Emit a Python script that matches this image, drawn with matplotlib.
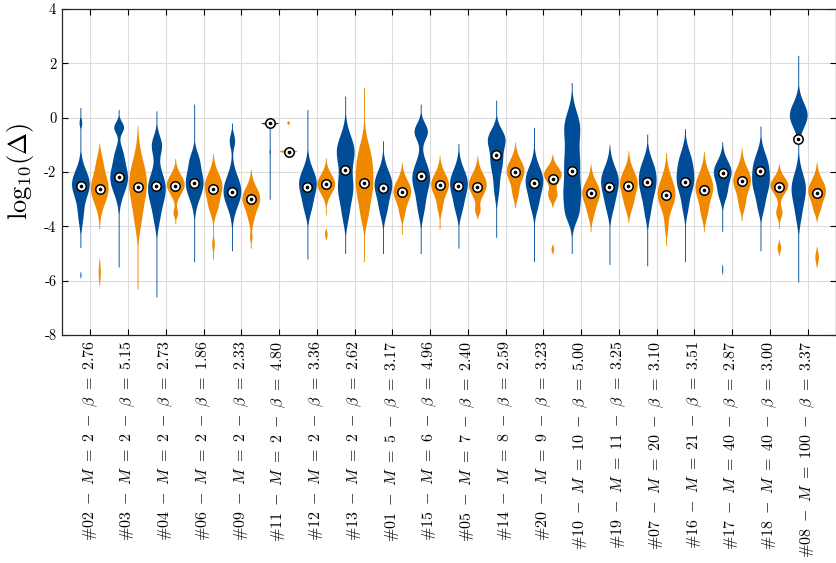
import numpy as np
import matplotlib
matplotlib.use('Agg')
import matplotlib.pyplot as plt

plt.rcParams['font.family'] = 'serif'
plt.rcParams['font.serif'] = ['cmr10']
plt.rcParams['mathtext.fontset'] = 'cm'
plt.rcParams['axes.unicode_minus'] = False

# categories (id, M, beta)
ids = ['02', '03', '04', '06', '09', '11', '12', '13', '01', '15',
       '05', '14', '20', '10', '19', '07', '16', '17', '18', '08']
Ms = ['2', '2', '2', '2', '2', '2', '2', '2', '5', '6',
      '7', '8', '9', '10', '11', '20', '21', '40', '40', '100']
betas = ['2.76', '5.15', '2.73', '1.86', '2.33', '4.80', '3.36', '2.62', '3.17', '4.96',
         '2.40', '2.59', '3.23', '5.00', '3.25', '3.10', '3.51', '2.87', '3.00', '3.37']

# medians
blue_med = [-2.5, -2.18, -2.5, -2.4, -2.75, -0.2, -2.55, -1.93, -2.6, -2.16,
            -2.5, -1.38, -2.4, -1.97, -2.56, -2.38, -2.36, -2.05, -1.95, -0.8]
orange_med = [-2.63, -2.55, -2.5, -2.63, -3.0, -1.25, -2.45, -2.4, -2.75, -2.47,
              -2.56, -2.0, -2.25, -2.78, -2.5, -2.86, -2.68, -2.34, -2.56, -2.77]

# density lobes (centre, spread, height) estimated from the violin shapes
blue_lobes = [
    [(-2.45, 0.5, 1.0), (-0.2, 0.15, 0.15), (-3.6, 0.4, 0.25), (-5.8, 0.1, 0.06)],
    [(-0.35, 0.2, 0.55), (-2.2, 0.55, 1.0), (-1.3, 0.3, 0.25)],
    [(-1.0, 0.35, 0.55), (-2.6, 0.6, 1.0), (-3.7, 0.4, 0.2)],
    [(-2.4, 0.55, 1.0), (-1.5, 0.3, 0.3)],
    [(-0.85, 0.25, 0.3), (-2.7, 0.55, 1.0)],
    [(-0.2, 0.035, 1.0), (-1.25, 0.08, 0.08)],
    [(-2.4, 0.5, 1.0), (-3.3, 0.35, 0.3)],
    [(-1.2, 0.55, 1.0), (-2.6, 0.55, 0.85), (-3.6, 0.4, 0.25)],
    [(-2.45, 0.5, 1.0), (-3.4, 0.35, 0.3)],
    [(-0.5, 0.3, 0.75), (-2.2, 0.55, 1.0), (-3.3, 0.4, 0.3)],
    [(-2.4, 0.5, 1.0), (-3.3, 0.35, 0.3)],
    [(-0.75, 0.35, 1.0), (-1.6, 0.45, 0.75), (-2.6, 0.4, 0.3)],
    [(-2.3, 0.5, 1.0), (-3.2, 0.35, 0.3)],
    [(-0.3, 0.55, 0.9), (-1.6, 0.6, 0.85), (-2.9, 0.6, 1.0), (-3.6, 0.3, 0.3)],
    [(-2.3, 0.5, 1.0), (-3.2, 0.4, 0.35)],
    [(-1.9, 0.45, 0.85), (-2.6, 0.5, 1.0), (-3.5, 0.35, 0.3)],
    [(-1.6, 0.45, 0.75), (-2.4, 0.45, 1.0), (-3.3, 0.35, 0.3)],
    [(-2.0, 0.4, 1.0), (-2.8, 0.3, 0.4), (-5.6, 0.15, 0.06)],
    [(-1.7, 0.45, 0.9), (-2.5, 0.45, 1.0), (-3.3, 0.3, 0.3)],
    [(0.1, 0.45, 1.0), (-2.6, 0.55, 0.8), (-3.6, 0.4, 0.2)],
]
orange_lobes = [
    [(-2.6, 0.55, 1.0), (-1.6, 0.3, 0.2), (-5.7, 0.3, 0.12)],
    [(-2.4, 0.8, 1.0), (-3.8, 0.5, 0.2)],
    [(-2.45, 0.35, 1.0), (-3.5, 0.15, 0.25)],
    [(-2.5, 0.45, 1.0), (-3.3, 0.3, 0.35), (-4.65, 0.2, 0.15)],
    [(-2.95, 0.4, 1.0), (-3.7, 0.3, 0.2), (-4.4, 0.15, 0.12)],
    [(-1.25, 0.04, 1.0), (-0.2, 0.04, 0.15)],
    [(-2.45, 0.35, 1.0), (-4.3, 0.12, 0.15)],
    [(-1.5, 0.6, 0.85), (-2.6, 0.6, 1.0), (-3.6, 0.4, 0.3)],
    [(-2.7, 0.4, 1.0), (-3.5, 0.25, 0.2)],
    [(-2.45, 0.4, 1.0), (-3.3, 0.25, 0.2)],
    [(-2.45, 0.4, 1.0), (-3.4, 0.15, 0.25)],
    [(-1.95, 0.4, 1.0), (-2.8, 0.25, 0.25)],
    [(-2.1, 0.28, 1.0), (-2.85, 0.2, 0.5), (-4.85, 0.1, 0.15)],
    [(-2.75, 0.4, 1.0), (-3.5, 0.3, 0.25)],
    [(-2.4, 0.45, 1.0), (-3.2, 0.3, 0.3)],
    [(-2.5, 0.5, 0.9), (-3.0, 0.45, 1.0), (-4.0, 0.3, 0.25)],
    [(-2.55, 0.5, 1.0), (-3.5, 0.3, 0.25)],
    [(-2.3, 0.45, 1.0), (-3.2, 0.25, 0.25)],
    [(-2.5, 0.3, 1.0), (-3.5, 0.2, 0.35), (-4.8, 0.15, 0.2)],
    [(-2.7, 0.4, 1.0), (-3.4, 0.2, 0.2), (-5.15, 0.2, 0.2)],
]

# thin whisker-like tails (low, high)
blue_tails = [(-4.8, 0.35), (-5.5, 0.3), (-6.6, 0.25), (-5.3, 0.5), (-4.9, -0.2),
              (-3.0, -0.1), (-5.2, 0.3), (-5.0, 0.8), (-5.0, -0.85), (-5.0, 0.5),
              (-4.8, -0.95), (-4.4, 0.65), (-5.3, -0.35), (-5.0, 1.3), (-5.4, -1.1),
              (-5.45, -0.6), (-5.3, -0.4), (-4.2, -0.9), (-4.9, -0.3), (-6.05, 2.3)]
orange_tails = [(-4.1, -1.3), (-6.3, -0.7), (-3.9, -1.5), (-5.2, -1.5), (-4.8, -2.1),
                (-1.3, -1.2), (-3.6, -1.5), (-5.3, 1.1), (-4.3, -1.9), (-4.1, -1.4),
                (-3.7, -1.8), (-3.2, -1.2), (-3.2, -1.5), (-4.2, -1.9), (-3.75, -1.3),
                (-4.7, -1.3), (-4.2, -1.3), (-3.8, -1.3), (-4.1, -1.9), (-3.7, -1.7)]

ytick_vals = [-8, -6, -4, -2, 0, 2, 4]
ytick_labels = ['-8', '-6', '-4', '-2', '0', '2', '4']

BLUE = '#004c97'
ORANGE = '#f08800'
half_w = 0.235
yy = np.linspace(-8, 4, 2401)


def profile(lobes, tail):
    d = np.zeros_like(yy)
    for c, s, a in lobes:
        d += a * np.exp(-0.5 * ((yy - c) / s) ** 2)
    d = d / d.max()
    inside = (yy >= tail[0]) & (yy <= tail[1])
    d[inside] = np.maximum(d[inside], 0.05)
    d[d < 0.03] = 0
    return d * half_w


fig = plt.figure(figsize=(8.37, 5.63), dpi=100)
ax = fig.add_axes([0.0741, 0.405, 0.9247, 0.579])

xs = np.arange(1, len(ids) + 1)
for i, x in enumerate(xs):
    for off, lobes, tail, col in [(-0.25, blue_lobes[i], blue_tails[i], BLUE),
                                  (0.25, orange_lobes[i], orange_tails[i], ORANGE)]:
        d = profile(lobes, tail)
        ax.fill_betweenx(yy, x + off - d, x + off + d, where=d > 0,
                         color=col, linewidth=0, zorder=2)

ax.plot(xs - 0.25, blue_med, 'o', mfc='white', mec='black', ms=6.8, mew=1.1, zorder=3)
ax.plot(xs + 0.25, orange_med, 'o', mfc='white', mec='black', ms=6.8, mew=1.1, zorder=3)
ax.plot(xs - 0.25, blue_med, 'o', color='black', ms=1.6, zorder=4)
ax.plot(xs + 0.25, orange_med, 'o', color='black', ms=1.6, zorder=4)

sp = '\\ '
labels = [r'$\#%s%s-%sM%s=%s%s%s-%s\beta%s=%s%s$' % (a, sp, sp, sp, sp, b, sp, sp, sp, sp, c)
          for a, b, c in zip(ids, Ms, betas)]
ax.set_xticks(xs)
ax.set_xticklabels(labels, rotation=90, fontsize=11.5)
ax.set_yticks(ytick_vals)
ax.set_yticklabels(ytick_labels, fontsize=10.5)
ax.set_xlim(0.25, 20.75)
ax.set_ylim(-8, 4)
ax.set_ylabel(r'$\mathrm{log}_{10}(\Delta)$', fontsize=19, labelpad=6)

ax.grid(True, color='#dcdcdc', linewidth=0.8, zorder=0)
ax.set_axisbelow(True)
ax.tick_params(direction='in', top=True, right=True, length=4, width=0.8, pad=4)
for s in ax.spines.values():
    s.set_linewidth(0.9)
    s.set_color('#262626')

fig.savefig('out.png', dpi=100)
